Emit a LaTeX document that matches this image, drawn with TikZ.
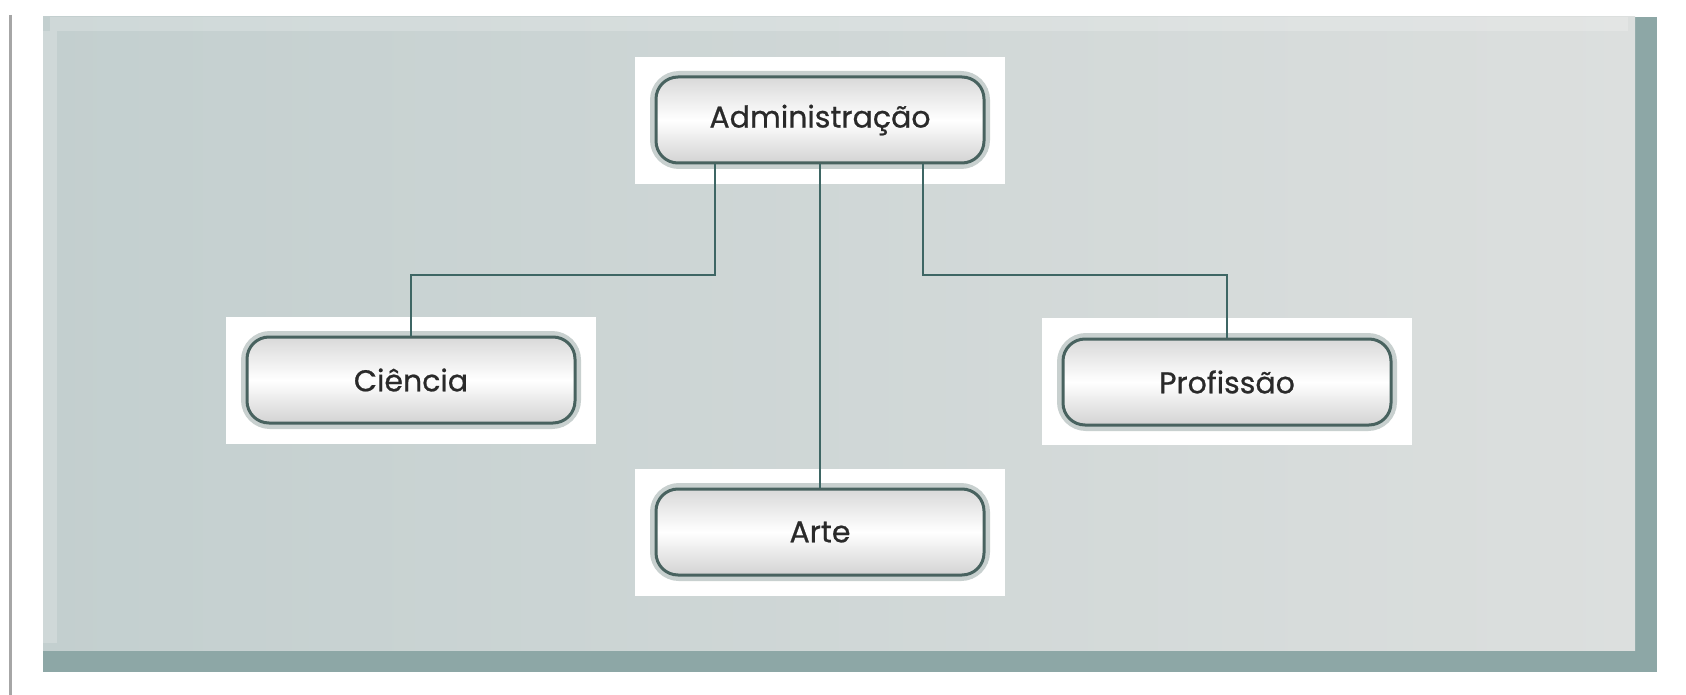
\documentclass[tikz,border=0pt]{standalone}
\usepackage{fontspec}
\setmainfont{Poppins}
\newfontfamily\boxfont{Poppins}[FakeBold=0.7]
\usepackage{xcolor}
\usetikzlibrary{arrows.meta, backgrounds}
\definecolor{edgeteal}{HTML}{48625F}
\definecolor{linkteal}{HTML}{3E6664}
\definecolor{panelgray}{HTML}{DCDFDE}
\definecolor{panelblue}{HTML}{C3CFCF}
\definecolor{paneldark}{HTML}{8DA7A6}
\definecolor{txtgray}{HTML}{2A2A2A}
\tikzset{
  back/.style={fill=white, minimum width=370pt, minimum height=127pt, inner sep=0pt},
  topic/.style={draw=edgeteal, line width=3pt, rounded corners=22pt,
                top color=gray!30, bottom color=gray!35, middle color=white,
                minimum width=328pt, minimum height=86pt, inner sep=0pt,
                font=\boxfont\fontsize{30}{36}\selectfont, text=txtgray},
  glow/.style={draw=edgeteal!30, line width=10pt, rounded corners=24pt,
               minimum width=330pt, minimum height=88pt},
  link/.style={draw=linkteal, line width=2pt},
}
\begin{document}
\begin{tikzpicture}[x=1pt, y=-1pt]
  \useasboundingbox (0,0) rectangle (1686,695);
  \fill[white] (0,0) rectangle (1686,695);
  % frame and panel
  \draw[gray!70, line width=3pt] (10,15) -- (10,695);
  \fill[paneldark] (43,17) rectangle (1657,672);
  \shade[left color=panelblue, right color=panelgray] (43,17) rectangle (1635,650);
  \draw[white, opacity=0.2, line width=14pt] (50,24) -- (1628,24);
  \draw[white, opacity=0.2, line width=14pt] (50,31) -- (50,643);
  % white backs
  \foreach \n/\x/\y in {adm/820/121, cie/411/380, pro/1227/381, art/820/532}
    \node[back] (\n-bk) at (\x,\y) {};
  % glows
  \foreach \n/\x/\y in {adm/820/120, cie/411/380, pro/1227/382, art/820/532}
    \node[glow] (\n-gl) at (\x,\y) {};
  % boxes
  \node[topic] (adm) at (820,120) {Administração};
  \node[topic] (cie) at (411,380) {Ciência};
  \node[topic] (pro) at (1227,382) {Profissão};
  \node[topic] (art) at (820,532) {Arte};
  % links
  \draw[link] ([xshift=-105pt]adm.south) -- ++(0,110) -| (cie.north);
  \draw[link] ([xshift=103pt]adm.south) -- ++(0,110) -| (pro.north);
  \draw[link] (adm.south) -- (art.north);
\end{tikzpicture}
\end{document}
